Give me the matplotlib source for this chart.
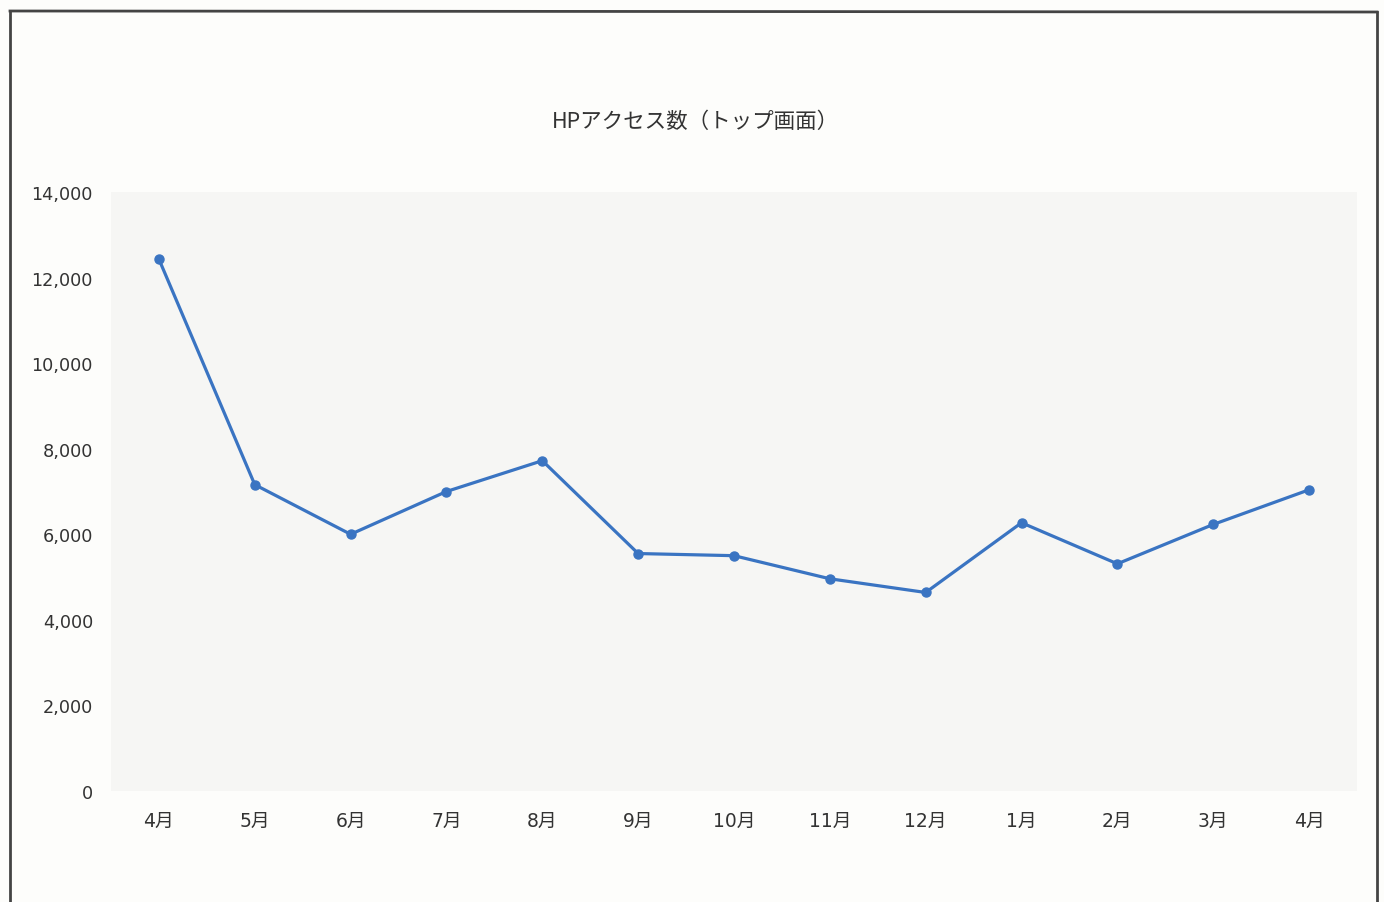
import matplotlib
matplotlib.use("Agg")
import matplotlib.pyplot as plt
from matplotlib.lines import Line2D

plt.rcParams['font.family'] = ['Noto Sans CJK JP', 'DejaVu Sans']

months = ["4月", "5月", "6月", "7月", "8月", "9月", "10月", "11月", "12月", "1月", "2月", "3月", "4月"]
access = [12430, 7160, 6000, 7000, 7720, 5550, 5500, 4960, 4640, 6270, 5310, 6230, 7040]
yticks = [0, 2000, 4000, 6000, 8000, 10000, 12000, 14000]
title = "HPアクセス数（トップ画面）"

W, H = 1384, 903
fig = plt.figure(figsize=(W / 100, H / 100), dpi=100)
fig.patch.set_facecolor("#fdfdfb")

ax = fig.add_axes([111 / W, 1 - 792 / H, (1357 - 111) / W, (792 - 193) / H])
ax.set_facecolor("#f6f6f4")
x = list(range(len(months)))
ax.plot(x, access, color="#3a74c2", linewidth=2.3, marker="o", markersize=6.5,
        markerfacecolor="#3a74c2", markeredgecolor="#3a74c2")
ax.set_xlim(-0.5, len(months) - 0.5)
ax.set_ylim(0, 14000)
ax.set_yticks(yticks)
ax.set_yticklabels([f"{v:,}" for v in yticks], fontsize=12.7, color="#333333",
                   family=['DejaVu Sans', 'Noto Sans CJK JP'])
ax.set_xticks(x)
ax.set_xticklabels(months, fontsize=13.5, color="#333333",
                   family=['DejaVu Sans', 'Noto Sans CJK JP'])
ax.tick_params(axis="both", length=0)
ax.tick_params(axis="y", pad=13)
ax.tick_params(axis="x", pad=14)
for s in ax.spines.values():
    s.set_visible(False)

fig.text(695 / W, 1 - 122 / H, title, ha="center", va="center", fontsize=15.5, color="#333333")

# outer frame of the scanned chart
fig.add_artist(Line2D([10 / W, 10 / W], [0, 1 - 12 / H], transform=fig.transFigure, color="#444444", lw=2))
fig.add_artist(Line2D([10 / W, 1377 / W], [1 - 12 / H, 1 - 13 / H], transform=fig.transFigure, color="#444444", lw=2))
fig.add_artist(Line2D([1377 / W, 1377 / W], [0, 1 - 13 / H], transform=fig.transFigure, color="#444444", lw=2))

fig.savefig("out.png", dpi=100, facecolor=fig.get_facecolor())
